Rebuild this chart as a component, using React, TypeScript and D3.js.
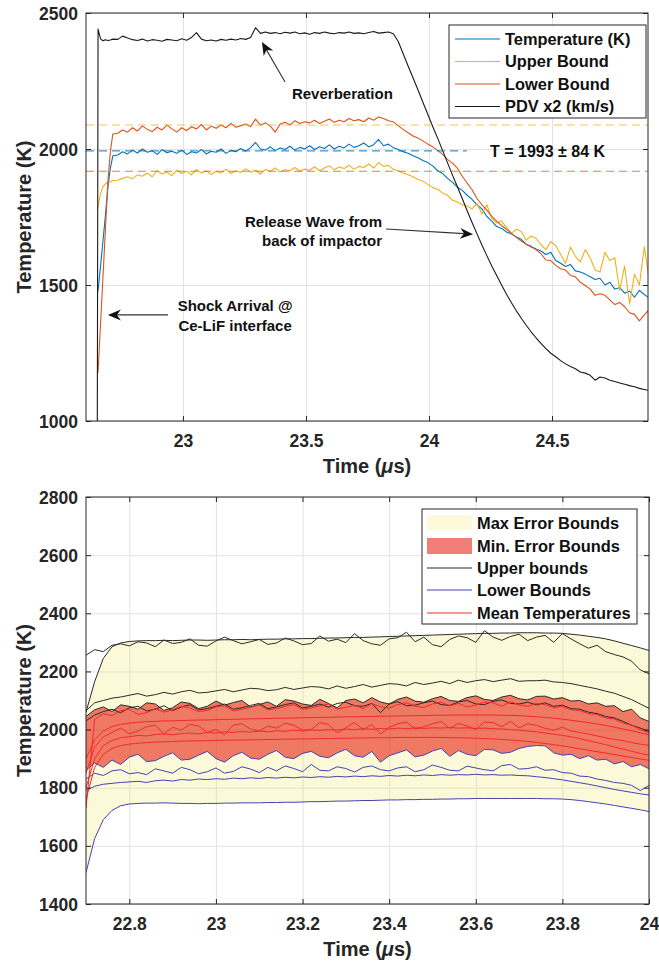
import React, { useRef, useEffect } from 'react';
import * as d3 from 'd3';

const FONT = "'Liberation Sans', Arial, Helvetica, sans-serif";
const INK = '#262626';

// ---------- top panel: temperature history + PDV ----------
const topHeadTime = [22.652, 22.655, 22.665, 22.675, 22.685, 22.695, 22.705, 22.715];
const topTime = topHeadTime.concat(d3.range(109).map(i => 22.735 + i * 0.02));

const temperatureK = [
  1474, 1480, 1568, 1662, 1757, 1860, 1930, 1975,
  1978, 1990, 1982, 1996, 1985, 2000, 1988, 1994, 1980, 1998, 1986, 1992, 1984,
  1996, 1980, 1990, 1985, 1998, 1982, 1992, 1988, 2000, 1984, 1995, 1990, 2002,
  1992, 2005, 2024, 2000, 1996, 2008, 1994, 2004, 1998, 2010, 1996, 2006, 2000,
  2012, 1998, 2008, 2002, 2015, 2000, 2010, 2004, 2018, 2006, 2012, 2022, 2008, 2016, 2035, 2012, 2018,
  2005, 1998, 1990, 1984, 1975, 1968, 1958, 1950, 1938, 1920, 1910, 1892, 1878, 1860, 1848, 1830,
  1815, 1795, 1780, 1752, 1735, 1715, 1708, 1695, 1688, 1676, 1668, 1650, 1642, 1632, 1625, 1612,
  1620, 1590, 1580, 1568, 1575, 1552, 1548, 1540, 1530, 1520, 1525, 1500, 1510, 1485, 1490, 1470,
  1478, 1455, 1480, 1465, 1452,
];

const upperBound = [
  1776, 1790, 1835, 1862, 1872, 1878, 1880, 1884,
  1885, 1892, 1898, 1890, 1905, 1900, 1912, 1898, 1920, 1908, 1915, 1902, 1922,
  1910, 1918, 1905, 1925, 1912, 1920, 1906, 1918, 1912, 1926, 1910, 1920, 1914,
  1928, 1915, 1922, 1908, 1925, 1918, 1930, 1916, 1924, 1920, 1932, 1918, 1926,
  1922, 1935, 1920, 1930, 1938, 1924, 1934, 1928, 1940, 1926, 1936, 1932, 1945, 1930, 1950, 1936, 1940,
  1925, 1920, 1912, 1905, 1898, 1888, 1882, 1870, 1858, 1852, 1838, 1830, 1812, 1805, 1795, 1790,
  1780, 1800, 1762, 1795, 1745, 1728, 1735, 1712, 1690, 1705, 1698, 1665, 1680, 1672, 1648, 1630,
  1660, 1645, 1612, 1580, 1640, 1605, 1585, 1630, 1600, 1555, 1548, 1620, 1590, 1600, 1480, 1570,
  1430, 1540, 1500, 1640, 1520,
];

const lowerBound = [
  1176, 1180, 1353, 1530, 1707, 1880, 1990, 2055,
  2058, 2070, 2062, 2078, 2066, 2085, 2072, 2064, 2080, 2070, 2088, 2074, 2062,
  2078, 2068, 2082, 2074, 2090, 2070, 2084, 2076, 2088, 2078, 2094, 2080, 2086,
  2092, 2082, 2110, 2088, 2096, 2084, 2062, 2092, 2098, 2088, 2104, 2094, 2100,
  2096, 2106, 2094, 2102, 2110, 2098, 2106, 2100, 2112, 2104, 2108, 2100, 2114, 2106, 2118, 2112, 2104,
  2100, 2085, 2072, 2060, 2048, 2040, 2030, 2018, 2008, 1995, 1980, 1962, 1948, 1930, 1900, 1875,
  1850, 1818, 1795, 1775, 1752, 1735, 1718, 1705, 1690, 1675, 1662, 1650, 1640, 1630, 1615, 1592,
  1590, 1572, 1560, 1555, 1535, 1530, 1510, 1498, 1485, 1462, 1468, 1462, 1445, 1428, 1436, 1420,
  1398, 1392, 1368, 1390, 1410,
];

const pdvX2 = [
  1000, 2441, 2405, 2398, 2402, 2399, 2401, 2404,
  2403, 2415, 2408, 2402, 2399, 2404, 2397, 2402, 2400, 2396, 2403, 2401, 2398,
  2405, 2400, 2410, 2428, 2404, 2398, 2401, 2397, 2403, 2400, 2404, 2401, 2406,
  2403, 2410, 2446, 2425, 2430, 2425, 2428, 2424, 2429, 2426, 2430, 2424, 2427,
  2422, 2428, 2425, 2430, 2426, 2424, 2428, 2426, 2430, 2425, 2427, 2424, 2428, 2432, 2426, 2428, 2430,
  2424, 2395, 2350, 2305, 2262, 2218, 2172, 2128, 2083, 2040, 1995, 1950, 1905, 1862, 1818, 1773,
  1730, 1688, 1647, 1608, 1570, 1535, 1500, 1466, 1435, 1405, 1378, 1352, 1328, 1306, 1285, 1266,
  1249, 1236, 1222, 1210, 1200, 1192, 1180, 1176, 1168, 1150, 1162, 1158, 1150, 1145, 1140, 1135,
  1130, 1126, 1120, 1116, 1112,
];

const meanLevel = 1993;
const meanHalfWidth = 84;
const upperDashLevel = 2088;
const lowerDashLevel = 1918;
const meanDashEnd = 24.154;
const topXTicks = [23, 23.5, 24, 24.5];
const topYTicks = [1000, 1500, 2000, 2500];
const topSeries = [
  { name: 'Temperature (K)', values: temperatureK, color: '#0072BD' },
  { name: 'Upper Bound', values: upperBound, color: '#EDB120' },
  { name: 'Lower Bound', values: lowerBound, color: '#D95319' },
  { name: 'PDV x2 (km/s)', values: pdvX2, color: '#1a1a1a' },
];

// ---------- bottom panel: error bounds ----------
const botTime = d3.range(66).map(i => 22.7 + i * 0.02);

const upperSmooth = [
  2060, 2165, 2245, 2285, 2298, 2303, 2305, 2306, 2306, 2307, 2306,
  2307, 2308, 2308, 2307, 2308, 2309, 2309, 2310, 2309, 2310, 2311,
  2311, 2312, 2312, 2313, 2313, 2314, 2315, 2315, 2316, 2317, 2317,
  2318, 2319, 2320, 2321, 2322, 2323, 2324, 2325, 2326, 2327, 2328,
  2329, 2330, 2331, 2331, 2332, 2332, 2333, 2333, 2333, 2332, 2332,
  2331, 2328, 2325, 2321, 2317, 2312, 2305, 2297, 2289, 2281, 2272,
];
const upperNoisy = [
  2256, 2275, 2268, 2290, 2295, 2288, 2302, 2298, 2285, 2308, 2296,
  2300, 2312, 2290, 2287, 2305, 2318, 2306, 2295, 2302, 2310, 2293,
  2298, 2315, 2305, 2292, 2296, 2322, 2304, 2311, 2299, 2330, 2306,
  2295, 2290, 2312, 2316, 2335, 2302, 2318, 2292, 2285, 2310, 2322,
  2316, 2300, 2340, 2318, 2307, 2320, 2328, 2306, 2318, 2324, 2300,
  2330, 2312, 2295, 2280, 2290, 2268, 2258, 2250, 2235, 2205, 2192,
];
const upperMid = [
  2065, 2092, 2100, 2108, 2112, 2118, 2124, 2115, 2120, 2128, 2122,
  2130, 2135, 2126, 2128, 2133, 2138, 2130, 2136, 2142, 2140, 2134,
  2137, 2145, 2138, 2143, 2148, 2146, 2140, 2150, 2142, 2148, 2155,
  2146, 2152, 2158, 2156, 2150, 2162, 2155, 2160, 2166, 2158, 2170,
  2162, 2168, 2172, 2165, 2170, 2175, 2166, 2168, 2168, 2170, 2164,
  2162, 2158, 2152, 2146, 2140, 2132, 2125, 2114, 2103, 2088, 2073,
];
const upperBandTop = [
  2045, 2068, 2078, 2062, 2085, 2080, 2070, 2092, 2088, 2066, 2075,
  2095, 2090, 2072, 2080, 2098, 2084, 2093, 2100, 2078, 2086, 2095,
  2080, 2103, 2098, 2088, 2083, 2104, 2090, 2075, 2100, 2105, 2092,
  2110, 2095, 2088, 2104, 2112, 2098, 2094, 2106, 2114, 2100, 2097,
  2110, 2116, 2104, 2100, 2112, 2118, 2106, 2102, 2114, 2115, 2105,
  2110, 2098, 2100, 2088, 2092, 2080, 2082, 2062, 2070, 2040, 2028,
];
const upperLow = [
  2030, 2050, 2062, 2070, 2058, 2075, 2080, 2064, 2070, 2082, 2065,
  2078, 2085, 2068, 2072, 2080, 2088, 2070, 2075, 2083, 2090, 2072,
  2078, 2086, 2092, 2074, 2080, 2088, 2077, 2090, 2094, 2082, 2080,
  2090, 2058, 2088, 2096, 2082, 2084, 2092, 2098, 2086, 2083, 2095,
  2100, 2088, 2086, 2097, 2102, 2090, 2088, 2094, 2085, 2092, 2080,
  2084, 2072, 2070, 2060, 2055, 2045, 2040, 2028, 2015, 2005, 1993,
];
const meanA = [
  1730, 2035, 2055, 2048, 2065, 2070, 2052, 2058, 2072, 2060, 2068,
  2080, 2074, 2062, 2066, 2078, 2082, 2064, 2070, 2076, 2085, 2068,
  2072, 2080, 2086, 2070, 2074, 2082, 2088, 2070, 2076, 2084, 2072,
  2090, 2078, 2074, 2086, 2092, 2080, 2076, 2088, 2094, 2082, 2090,
  2078, 2084, 2095, 2092, 2080, 2096, 2085, 2080, 2090, 2086, 2075,
  2080, 2068, 2066, 2055, 2052, 2040, 2036, 2022, 2015, 2000, 1990,
];
const meanB = [
  1900, 1965, 1995, 2010, 2018, 2022, 2025, 2027, 2028, 2030, 2030,
  2031, 2032, 2033, 2033, 2034, 2035, 2035, 2036, 2037, 2037, 2038,
  2039, 2039, 2040, 2041, 2041, 2042, 2042, 2043, 2044, 2044, 2045,
  2045, 2046, 2046, 2047, 2047, 2048, 2048, 2049, 2049, 2050, 2050,
  2050, 2050, 2050, 2050, 2049, 2049, 2048, 2046, 2044, 2042, 2039,
  2036, 2032, 2028, 2024, 2019, 2014, 2008, 2002, 1996, 1989, 1982,
];
const meanC = [
  1850, 1940, 1975, 1990, 2005, 1985, 1995, 2010, 2015, 1985, 2008,
  1998, 2018, 2012, 1990, 2000, 1982, 2015, 2020, 2002, 1995, 2012,
  2005, 2022, 2015, 1998, 2000, 2024, 2018, 1988, 2006, 2025, 2000,
  2018, 1985, 2008, 2020, 2026, 2002, 2010, 2020, 2028, 2004, 2022,
  2012, 2000, 2026, 2024, 2010, 2028, 2006, 2020, 2015, 2004, 1998,
  2008, 1995, 1990, 1985, 1978, 1972, 1966, 1962, 1955, 1950, 1945,
];
const meanD = [
  1800, 1900, 1945, 1962, 1972, 1975, 1980, 1978, 1983, 1985, 1982,
  1986, 1988, 1985, 1990, 1988, 1992, 1990, 1993, 1991, 1995, 1992,
  1996, 1994, 1998, 1995, 1999, 1997, 2000, 1998, 2002, 2000, 2003,
  2001, 2004, 2002, 2005, 2003, 2006, 2004, 2006, 2005, 2007, 2005,
  2006, 2004, 2005, 2003, 2002, 2000, 1998, 1995, 1992, 1988, 1984,
  1980, 1975, 1969, 1962, 1955, 1948, 1940, 1933, 1925, 1918, 1912,
];
const meanE = [
  1760, 1870, 1915, 1935, 1945, 1950, 1953, 1955, 1957, 1958, 1959,
  1960, 1961, 1961, 1962, 1963, 1963, 1964, 1964, 1965, 1965, 1966,
  1966, 1967, 1967, 1968, 1968, 1969, 1969, 1970, 1970, 1971, 1971,
  1972, 1972, 1972, 1973, 1973, 1973, 1973, 1973, 1973, 1972, 1972,
  1971, 1970, 1969, 1968, 1966, 1964, 1962, 1959, 1956, 1952, 1948,
  1944, 1939, 1934, 1929, 1924, 1919, 1914, 1909, 1904, 1899, 1894,
];
const lowerBandBottom = [
  1860, 1885, 1870, 1895, 1880, 1905, 1915, 1890, 1893, 1908, 1920,
  1895, 1898, 1912, 1925, 1900, 1888, 1910, 1922, 1902, 1898, 1915,
  1928, 1905, 1900, 1918, 1925, 1908, 1903, 1920, 1932, 1910, 1905,
  1925, 1888, 1910, 1920, 1930, 1906, 1912, 1926, 1935, 1908, 1928,
  1915, 1910, 1932, 1930, 1918, 1922, 1935, 1942, 1945, 1944, 1920,
  1912, 1915, 1900, 1910, 1895, 1898, 1882, 1890, 1872, 1880, 1865,
];
const lowerMid = [
  1830, 1850, 1842, 1858, 1862, 1848, 1852, 1845, 1865, 1858, 1850,
  1870, 1862, 1848, 1855, 1868, 1850, 1856, 1872, 1864, 1852, 1870,
  1858, 1875, 1866, 1855, 1880, 1860, 1858, 1872, 1866, 1854, 1870,
  1875, 1862, 1858, 1868, 1872, 1855, 1862, 1878, 1870, 1860, 1858,
  1874, 1868, 1862, 1858, 1876, 1880, 1864, 1866, 1872, 1860, 1862,
  1852, 1850, 1840, 1838, 1830, 1825, 1818, 1815, 1808, 1790, 1808,
];
const lowerThird = [
  1790, 1805, 1812, 1815, 1818, 1820, 1822, 1818, 1824, 1826, 1823,
  1828, 1826, 1830, 1828, 1831, 1829, 1833, 1831, 1834, 1832, 1835,
  1833, 1836, 1834, 1837, 1835, 1838, 1836, 1839, 1837, 1840, 1838,
  1841, 1839, 1842, 1840, 1843, 1841, 1844, 1842, 1845, 1843, 1845,
  1844, 1846, 1844, 1845, 1843, 1844, 1842, 1841, 1838, 1835, 1831,
  1827, 1822, 1817, 1812, 1806, 1800, 1794, 1789, 1784, 1779, 1775,
];
const lowerSmooth = [
  1508, 1625, 1690, 1722, 1738, 1744, 1746, 1747, 1747, 1748, 1747,
  1746, 1746, 1745, 1746, 1746, 1747, 1747, 1748, 1748, 1748, 1749,
  1749, 1750, 1750, 1751, 1752, 1752, 1753, 1754, 1754, 1755, 1756,
  1756, 1757, 1758, 1758, 1759, 1759, 1760, 1760, 1761, 1761, 1762,
  1762, 1763, 1763, 1763, 1763, 1763, 1763, 1763, 1763, 1762, 1762,
  1761, 1759, 1756, 1752, 1748, 1744, 1739, 1734, 1729, 1724, 1718,
];

const upperLines = [upperSmooth, upperNoisy, upperMid, upperBandTop, upperLow];
const lowerLines = [lowerBandBottom, lowerMid, lowerThird, lowerSmooth];
const meanLines = [meanA, meanB, meanC, meanD, meanE];
const botXTicks = [22.8, 23, 23.2, 23.4, 23.6, 23.8, 24];
const botYTicks = [1400, 1600, 1800, 2000, 2200, 2400, 2600, 2800];

const YELLOW_FILL = '#eee860';
const RED_FILL = '#e82a1c';
const UPPER_C = '#2b2b2b';
const LOWER_C = '#4343b4';
const MEAN_C = '#f22a2a';

function frame(g: any, x: any, y: any, xTicks: number[], yTicks: number[], id: string) {
  const [x0, x1] = x.range();
  const [y0, y1] = y.range();
  const h = y0 - y1, w = x1 - x0;

  g.append('clipPath').attr('id', id).append('rect')
    .attr('x', x0).attr('y', y1).attr('width', w).attr('height', h);

  // grid
  g.append('g').attr('transform', `translate(0,${y0})`)
    .call(d3.axisBottom(x).tickValues(xTicks).tickSize(-h).tickFormat(() => ''))
    .call((a: any) => { a.select('.domain').remove(); a.selectAll('line').attr('stroke', '#e2e2e2'); });
  g.append('g').attr('transform', `translate(${x0},0)`)
    .call(d3.axisLeft(y).tickValues(yTicks).tickSize(-w).tickFormat(() => ''))
    .call((a: any) => { a.select('.domain').remove(); a.selectAll('line').attr('stroke', '#e2e2e2'); });
}

function axes(g: any, x: any, y: any, xTicks: number[], yTicks: number[]) {
  const [x0, x1] = x.range();
  const [y0, y1] = y.range();
  const styleText = (a: any) => a.selectAll('text')
    .attr('fill', INK).attr('font-family', FONT).attr('font-weight', 'bold').attr('font-size', 17.5);

  g.append('g').attr('transform', `translate(0,${y0})`)
    .call(d3.axisBottom(x).tickValues(xTicks).tickSize(-5).tickFormat(d3.format('~g')))
    .call((a: any) => {
      a.select('.domain').remove();
      a.selectAll('line').attr('stroke', INK);
      a.selectAll('text').attr('y', 20).attr('dy', '0.35em');
      styleText(a);
    });
  g.append('g').attr('transform', `translate(0,${y1})`)
    .call(d3.axisTop(x).tickValues(xTicks).tickSize(-5).tickFormat(() => ''))
    .call((a: any) => { a.select('.domain').remove(); a.selectAll('line').attr('stroke', INK); });
  g.append('g').attr('transform', `translate(${x0},0)`)
    .call(d3.axisLeft(y).tickValues(yTicks).tickSize(-5).tickFormat(d3.format('d')))
    .call((a: any) => {
      a.select('.domain').remove();
      a.selectAll('line').attr('stroke', INK);
      a.selectAll('text').attr('x', -8).attr('dy', '0.35em');
      styleText(a);
    });
  g.append('g').attr('transform', `translate(${x1},0)`)
    .call(d3.axisRight(y).tickValues(yTicks).tickSize(-5).tickFormat(() => ''))
    .call((a: any) => { a.select('.domain').remove(); a.selectAll('line').attr('stroke', INK); });

  g.append('rect').attr('x', x0).attr('y', y1).attr('width', x1 - x0).attr('height', y0 - y1)
    .attr('fill', 'none').attr('stroke', INK).attr('stroke-width', 1);

  // axis titles
  const xt = g.append('text').attr('x', (x0 + x1) / 2).attr('y', y0 + 45).attr('dy', '0.35em')
    .attr('text-anchor', 'middle').attr('font-family', FONT).attr('font-weight', 'bold')
    .attr('font-size', 20).attr('fill', INK);
  xt.append('tspan').text('Time (');
  xt.append('tspan').attr('font-style', 'italic').text('\u03bc');
  xt.append('tspan').text('s)');
  g.append('text').attr('transform', `translate(23.5,${(y0 + y1) / 2}) rotate(-90)`).attr('dy', '0.35em')
    .attr('text-anchor', 'middle').attr('font-family', FONT).attr('font-weight', 'bold')
    .attr('font-size', 20).attr('fill', INK).text('Temperature (K)');
}

function arrow(g: any, x1: number, y1: number, x2: number, y2: number) {
  const a = Math.atan2(y2 - y1, x2 - x1);
  const L = 13, W = 5.5, N = 9;
  g.append('line').attr('x1', x1).attr('y1', y1)
    .attr('x2', x2 - Math.cos(a) * N).attr('y2', y2 - Math.sin(a) * N)
    .attr('stroke', '#333').attr('stroke-width', 1.1);
  const pts = [[0, 0], [-L, -W], [-N, 0], [-L, W]].map(([u, v]) =>
    [x2 + u * Math.cos(a) - v * Math.sin(a), y2 + u * Math.sin(a) + v * Math.cos(a)]);
  g.append('path').attr('d', 'M' + pts.map(p => p.join(',')).join('L') + 'Z').attr('fill', '#111');
}

function label(g: any, x: number, y: number, txt: string, anchor: string, size = 15) {
  g.append('text').attr('x', x).attr('y', y).attr('dy', '0.35em').attr('text-anchor', anchor)
    .attr('font-family', FONT).attr('font-weight', 'bold').attr('font-size', size).attr('fill', '#111').text(txt);
}

function drawTop(svg: any) {
  const x = d3.scaleLinear().domain([22.606, 24.89]).range([86, 648]);
  const y = d3.scaleLinear().domain([1000, 2500]).range([421, 13]);
  const g = svg.append('g');
  frame(g, x, y, topXTicks, topYTicks, 'clipTop');

  const plot = g.append('g').attr('clip-path', 'url(#clipTop)');
  const line = d3.line<number>().x((_, i) => x(topTime[i])).y(d => y(d));
  topSeries.forEach(s => {
    plot.append('path').attr('d', line(s.values)).attr('fill', 'none')
      .attr('stroke', s.color).attr('stroke-width', 1.1).attr('stroke-linejoin', 'round');
  });

  const dash = (v: number, tEnd: number, color: string) =>
    plot.append('line').attr('x1', x(22.606)).attr('x2', x(tEnd)).attr('y1', y(v)).attr('y2', y(v))
      .attr('stroke', color).attr('stroke-width', 1.1).attr('stroke-dasharray', '8,5').attr('opacity', 0.75);
  dash(upperDashLevel, 24.89, '#EDB120');
  dash(meanLevel, meanDashEnd, '#0072BD');
  dash(lowerDashLevel, 24.89, '#D95319');

  axes(g, x, y, topXTicks, topYTicks);

  // annotations
  label(g, x(24.248), y(meanLevel), `T = ${meanLevel} \u00b1 ${meanHalfWidth} K`, 'start', 16);
  label(g, x(23.443), y(2202), 'Reverberation', 'start');
  arrow(g, x(23.415), y(2246), x(23.321), y(2393));
  label(g, x(23.809), y(1732), 'Release Wave from', 'end');
  label(g, x(23.809), y(1662), 'back of impactor', 'end');
  arrow(g, x(23.825), y(1706), x(24.179), y(1687));
  label(g, x(23.212), y(1423), 'Shock Arrival @', 'middle');
  label(g, x(23.212), y(1349), 'Ce-LiF interface', 'middle');
  arrow(g, x(22.939), y(1390), x(22.695), y(1390));

  // legend
  const lg = g.append('g');
  lg.append('rect').attr('x', 449).attr('y', 25).attr('width', 197).attr('height', 93)
    .attr('fill', '#fff').attr('stroke', INK).attr('stroke-width', 1);
  const rowY = [39, 61.5, 84, 106.5];
  topSeries.forEach((s, i) => {
    lg.append('line').attr('x1', 455).attr('x2', 500).attr('y1', rowY[i]).attr('y2', rowY[i])
      .attr('stroke', s.color).attr('stroke-width', 1.1);
    lg.append('text').attr('x', 505).attr('y', rowY[i]).attr('dy', '0.35em')
      .attr('font-family', FONT).attr('font-weight', 'bold').attr('font-size', 16.4).attr('fill', '#111').text(s.name);
  });
}

function drawBottom(svg: any) {
  const x = d3.scaleLinear().domain([22.7, 24]).range([86, 649]);
  const y = d3.scaleLinear().domain([1400, 2800]).range([904, 497]);
  const g = svg.append('g');
  frame(g, x, y, botXTicks, botYTicks, 'clipBot');

  const plot = g.append('g').attr('clip-path', 'url(#clipBot)');
  const band = (lo: number[], hi: number[]) => d3.area<number>()
    .x((_, i) => x(botTime[i])).y0((_, i) => y(lo[i])).y1((_, i) => y(hi[i]))(lo);
  plot.append('path').attr('d', band(lowerSmooth, upperSmooth)).attr('fill', YELLOW_FILL).attr('fill-opacity', 0.25);
  plot.append('path').attr('d', band(lowerBandBottom, upperBandTop)).attr('fill', RED_FILL).attr('fill-opacity', 0.62);

  const line = d3.line<number>().x((_, i) => x(botTime[i])).y(d => y(d));
  const draw = (arr: number[][], color: string) => arr.forEach(v =>
    plot.append('path').attr('d', line(v)).attr('fill', 'none').attr('stroke', color)
      .attr('stroke-width', 1).attr('stroke-linejoin', 'round'));
  draw(upperLines, UPPER_C);
  draw(lowerLines, LOWER_C);
  draw(meanLines, MEAN_C);

  axes(g, x, y, botXTicks, botYTicks);

  // legend
  const lg = g.append('g');
  lg.append('rect').attr('x', 422).attr('y', 509).attr('width', 215).attr('height', 115)
    .attr('fill', '#fff').attr('stroke', INK).attr('stroke-width', 1);
  lg.append('rect').attr('x', 427).attr('y', 515).attr('width', 45).attr('height', 15)
    .attr('fill', YELLOW_FILL).attr('fill-opacity', 0.25);
  lg.append('rect').attr('x', 427).attr('y', 538).attr('width', 45).attr('height', 16)
    .attr('fill', RED_FILL).attr('fill-opacity', 0.6);
  const items = [
    { name: 'Max Error Bounds', y: 523, color: null },
    { name: 'Min. Error Bounds', y: 546, color: null },
    { name: 'Upper bounds', y: 568, color: UPPER_C },
    { name: 'Lower Bounds', y: 590, color: LOWER_C },
    { name: 'Mean Temperatures', y: 613, color: MEAN_C },
  ];
  items.forEach(it => {
    if (it.color) {
      lg.append('line').attr('x1', 427).attr('x2', 472).attr('y1', it.y).attr('y2', it.y)
        .attr('stroke', it.color).attr('stroke-width', 1.1);
    }
    lg.append('text').attr('x', 477).attr('y', it.y).attr('dy', '0.35em')
      .attr('font-family', FONT).attr('font-weight', 'bold').attr('font-size', 16.4).attr('fill', '#111').text(it.name);
  });
}

export default function App() {
  const ref = useRef<SVGSVGElement>(null);

  useEffect(() => {
    const svg = d3.select(ref.current);
    svg.selectAll('*').remove();
    drawTop(svg);
    drawBottom(svg);
  }, []);

  return (
    <svg ref={ref} width={659} height={965}
      style={{ position: 'absolute', left: 0, top: 0, background: '#fff' }} />
  );
}
